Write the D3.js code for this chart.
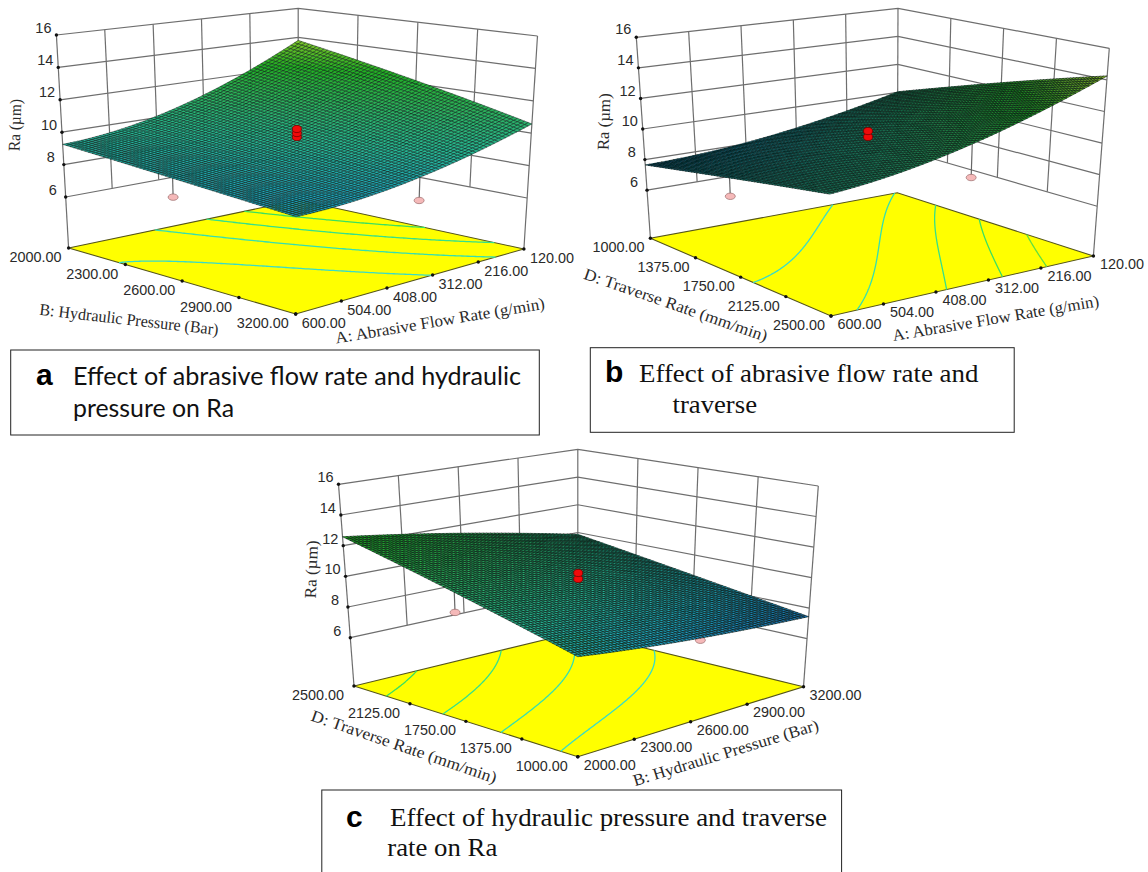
<!DOCTYPE html>
<html><head><meta charset="utf-8">
<script src="https://cdn.jsdelivr.net/npm/d3@7"></script>
<style>html,body{margin:0;padding:0;background:#fff}svg{display:block}</style>
</head><body><svg id="c" width="1148" height="872"><defs><filter id="soft" x="-5%" y="-5%" width="110%" height="110%"><feGaussianBlur stdDeviation="0.4"/></filter></defs></svg>
<script>
// Response values Ra at the corners, edge middles and centre of each surface.
// Rows follow the left-hand floor axis, columns the right-hand floor axis.
const raA=[[9.25,10.5,13.8],[8.7,9.6,12.2],[8.2,8.75,10.57]];
const raB=[[7.65,8.3,10.05],[8.85,9.85,12.35],[9.85,11.25,14.25]];
const raC=[[12.58,11.45,9.87],[10.6,9.7,8.6],[8.72,7.95,7.44]];
const zTicks=[6,8,10,12,14,16];
const hydraulicAsc=[2000,2300,2600,2900,3200];
const flowDesc=[600,504,408,312,216,120];
const traverseAsc=[1000,1375,1750,2125,2500];
const traverseDesc=[2500,2125,1750,1375,1000];
const contourA=[9,10,11,12], contourB=[9,10,11,12,13], contourC=[9,10,11,12];
// design points: [left axis value, right axis value, Ra]
const pinkA=[[2564,600,7.63],[3200,346,7.47]], redA=[9.95,10.2,10.45];
const pinkB=[[1690,600,7.63],[2500,350,9.32]], redB=[10.13,10.51];
const pinkC=[[1795,2000,9.47],[1000,2636,7.78]], redC=[10.09,10.48];

const panels=[
 {ra:raA,sTicks:hydraulicAsc,tTicks:flowDesc,levels:contourA,pink:pinkA,red:redA,dark:.58,
  floor:[[68.6,248],[295.7,314],[523.9,249],[298.2,200]],top:[[56.4,35],[296.5,75],[537.5,36],[298.2,8.3]],
  sOff:[-33,9],tOff:[28,9],zOff:[-13,-7.5],
  sTitle:["B: Hydraulic Pressure (Bar)",129,319.5,6.5,180],tTitle:["A: Abrasive Flow Rate (g/min)",440,320.7,-9.5,212],raT:[15,125,52]},
 {ra:raB,sTicks:traverseAsc,tTicks:flowDesc,levels:contourB,pink:pinkB,red:redB,dark:.76,
  floor:[[650.4,238.3],[831,316],[1093.4,256],[897.3,192.7]],top:[[636.3,37.3],[828.5,87],[1109.3,48.3],[898,8.3]],
  sOff:[-32,9],tOff:[28.5,8],zOff:[-13,-8],
  sTitle:["D: Traverse Rate (mm/min)",675.8,305,19.1,193],tTitle:["A: Abrasive Flow Rate (g/min)",995.7,318.3,-9.6,209],raT:[604,121.7,57]},
 {ra:raC,sTicks:traverseDesc,tTicks:hydraulicAsc,levels:contourC,pink:pinkC,red:redC,dark:.74,
  floor:[[354,686],[577.8,756.7],[803.5,686.7],[577.8,631.7]],top:[[338.5,484.3],[577.8,532.7],[818.3,486],[577.8,449.3]],
  sOff:[-36,9],tOff:[32,8],zOff:[-13,-7],
  sTitle:["D: Traverse Rate (mm/min)",404,746.7,18.9,195],tTitle:["B: Hydraulic Pressure (Bar)",725.8,752.7,-17,193],raT:[311.4,569.3,58]}
];
const captions=[
 {box:[10.7,350,528.6,85],letter:["a",36,385],font:"Lato, 'Open Sans', sans-serif",lines:[["Effect of abrasive flow rate and hydraulic",73,385,448],["pressure on Ra",73,417,161]]},
 {box:[590.3,347.7,423.9,84.6],letter:["b",605,381.7],font:"'Liberation Serif', serif",lines:[["Effect of abrasive flow rate and",639,381.7,339.4],["traverse",672.5,412.7,84.5]]},
 {box:[321.8,790,519.8,100],letter:["c",346,826.7],font:"'Liberation Serif', serif",lines:[["Effect of hydraulic pressure and traverse",390,826,437],["rate on Ra",387.3,856,110]]}
];

const svg=d3.select("#c");
const zFrac=d3.scaleLinear().domain([2.85,16]).range([0,1]);
const colour=d3.scaleLinear().domain([7.4,8.3,9.5,11,12.5,14.2])
  .range(["#1a6fb4","#1fa3bd","#27b795","#2bb05c","#22ae22","#9ccb2c"]);
const lineColour=d3.scaleLinear().domain([9,10,11,12,13]).range(["#38dcc8","#35dfb0","#35e08a","#3be060","#60e040"]);
const MESH=64;

// quad [L,F,R,B]: axes are evenly divided along each edge in the picture
function quadMap(q){
  const [a,b,c,d]=q;
  return (s,t)=>[0,1].map(k=>(1-s)*(1-t)*a[k]+s*(1-t)*b[k]+s*t*c[k]+(1-s)*t*d[k]);
}
const lag=u=>[2*(u-.5)*(u-1),-4*u*(u-1),2*u*(u-.5)];
// drawing-only: a smooth surface through the read stations
function surfaceFn(tbl){
  return (s,t)=>{const a=lag(s),b=lag(t);let v=0;
    for(let i=0;i<3;i++)for(let j=0;j<3;j++)v+=a[i]*b[j]*tbl[i][j];
    return v;};
}

panels.forEach(p=>{
  const g=svg.append("g");
  const fl=quadMap(p.floor),tp=quadMap(p.top);
  const P=(s,t,z)=>{const a=fl(s,t),b=tp(s,t),f=zFrac(z);return [a[0]+(b[0]-a[0])*f,a[1]+(b[1]-a[1])*f];};
  const S=d3.scaleLinear().domain([p.sTicks[0],p.sTicks[p.sTicks.length-1]]).range([0,1]);
  const T=d3.scaleLinear().domain([p.tTicks[0],p.tTicks[p.tTicks.length-1]]).range([0,1]);
  const line=d3.line();
  const surf=surfaceFn(p.ra);

  // walls
  const wall=g.append("g").attr("fill","none").attr("stroke","#6e6e6e").attr("stroke-width",1.2);
  zTicks.forEach(z=>wall.append("path").attr("d",line([P(0,0,z),P(0,1,z),P(1,1,z)])));
  p.tTicks.forEach(v=>{const t=T(v);if(t>0)wall.append("path").attr("d",line([P(0,t,6),P(0,t,16)]));});
  p.sTicks.forEach(v=>{const s=S(v);if(s>0&&s<1)wall.append("path").attr("d",line([P(s,1,6),P(s,1,16)]));});
  wall.append("path").attr("d",line([P(0,0,2.85),P(0,0,16)]));
  wall.append("path").attr("d",line([P(1,1,2.85),P(1,1,16)]));

  // floor
  g.append("path").attr("d",line(p.floor)+"Z").attr("fill","#ffff00").attr("stroke","#55551a").attr("stroke-width",1.1);

  // floor contours
  const N=120,vals=new Array((N+1)*(N+1));
  for(let j=0;j<=N;j++)for(let i=0;i<=N;i++)vals[j*(N+1)+i]=surf(j/N,i/N);
  const cs=d3.contours().size([N+1,N+1]).thresholds(p.levels)(vals);
  const cg=g.append("g").attr("fill","none").attr("stroke-width",1.3);
  cs.forEach(c=>c.coordinates.forEach(poly=>poly.forEach(ring=>{
    let d="";let pen=false;
    for(let k=0;k<ring.length-1;k++){
      const a=ring[k],b=ring[k+1];
      const edge=q=>q[0]<=0||q[0]>=N+1||q[1]<=0||q[1]>=N+1;
      if(edge(a)||edge(b)){pen=false;continue;}
      const m=q=>fl(Math.max(0,Math.min(1,(q[1]-.5)/N)),Math.max(0,Math.min(1,(q[0]-.5)/N)));
      if(!pen){d+="M"+m(a);pen=true;}
      d+="L"+m(b);
    }
    if(d)cg.append("path").attr("d",d).attr("stroke",lineColour(c.value));
  })));

  // tick dots and labels
  const dots=[];
  zTicks.forEach(z=>dots.push(P(0,0,z)));
  p.sTicks.forEach(v=>dots.push(fl(S(v),0)));
  p.tTicks.forEach(v=>dots.push(fl(1,T(v))));
  g.append("g").selectAll("circle").data(dots).join("circle").attr("cx",d=>d[0]).attr("cy",d=>d[1]).attr("r",1.7).attr("fill","#111");
  const lab=g.append("g").attr("font-family","'Liberation Sans',Arial,sans-serif").attr("fill","#2a2a2a").attr("text-anchor","middle");
  const put=(txt,pos,off,fs)=>lab.append("text").attr("x",pos[0]+off[0]).attr("y",pos[1]+off[1]+fs*.35).attr("font-size",fs).text(txt);
  zTicks.forEach(z=>put(z,P(0,0,z),p.zOff,14.5));
  p.sTicks.forEach(v=>put(v.toFixed(2),fl(S(v),0),p.sOff,14.4));
  p.tTicks.forEach(v=>put(v.toFixed(2),fl(1,T(v)),p.tOff,14.4));

  // axis titles
  const tt=g.append("g").attr("font-family","'Liberation Serif',serif").attr("font-size",16.5).attr("fill","#2a2a2a").attr("text-anchor","middle");
  [p.sTitle,p.tTitle].forEach(a=>tt.append("text").attr("transform",`translate(${a[1]},${a[2]}) rotate(${a[3]})`).attr("dy","0.33em")
    .attr("textLength",a[4]).attr("lengthAdjust","spacingAndGlyphs").text(a[0]));
  tt.append("text").attr("transform",`translate(${p.raT[0]},${p.raT[1]}) rotate(-88)`).attr("dy","0.33em").attr("textLength",p.raT[2]).attr("lengthAdjust","spacingAndGlyphs").text("Ra (µm)");

  // points below the surface, with stems
  const pk=g.append("g");
  p.pink.forEach(d=>{
    const s=S(d[0]),t=T(d[1]),a=P(s,t,d[2]),b=P(s,t,surf(s,t));
    pk.append("path").attr("d",line([a,b])).attr("stroke","#666").attr("stroke-width",1.2);
    pk.append("ellipse").attr("cx",a[0]).attr("cy",a[1]).attr("rx",5).attr("ry",3.2).attr("fill","#f5b9b9").attr("stroke","#9a6a6a").attr("stroke-width",.7);
  });

  // surface mesh painted back to front
  const cells=[];
  for(let i=0;i<MESH;i++)for(let j=MESH-1;j>=0;j--){
    const s0=i/MESH,s1=(i+1)/MESH,t0=j/MESH,t1=(j+1)/MESH;
    const z00=surf(s0,t0),z10=surf(s1,t0),z11=surf(s1,t1),z01=surf(s0,t1);
    cells.push({d:line([P(s0,t0,z00),P(s1,t0,z10),P(s1,t1,z11),P(s0,t1,z01)])+"Z",z:(z00+z10+z11+z01)/4});
  }
  g.append("g").attr("filter","url(#soft)").attr("stroke","#04140f").attr("stroke-opacity",p.dark).attr("stroke-width",.75).attr("stroke-linejoin","round")
   .selectAll("path").data(cells).join("path").attr("d",d=>d.d).attr("fill",d=>colour(d.z));

  // centre points
  const rd=g.append("g");
  p.red.forEach(z=>{const a=P(.5,.5,z);
    rd.append("ellipse").attr("cx",a[0]).attr("cy",a[1]).attr("rx",4.5).attr("ry",3.6).attr("fill","#f00a0a").attr("stroke","#7a0000").attr("stroke-width",.8);});
});

captions.forEach(c=>{
  const g=svg.append("g");
  g.append("rect").attr("x",c.box[0]).attr("y",c.box[1]).attr("width",c.box[2]).attr("height",c.box[3]).attr("fill","#fff").attr("stroke","#222").attr("stroke-width",1);
  g.append("text").attr("x",c.letter[1]).attr("y",c.letter[2]).attr("font-family","'Liberation Sans',Arial,sans-serif").attr("font-weight","bold").attr("font-size",30).attr("fill","#000").text(c.letter[0]);
  c.lines.forEach(l=>g.append("text").attr("x",l[1]).attr("y",l[2]).attr("font-family",c.font).attr("font-size",25).attr("fill","#111")
    .attr("textLength",l[3]).attr("lengthAdjust","spacingAndGlyphs").text(l[0]));
});
</script></body></html>
